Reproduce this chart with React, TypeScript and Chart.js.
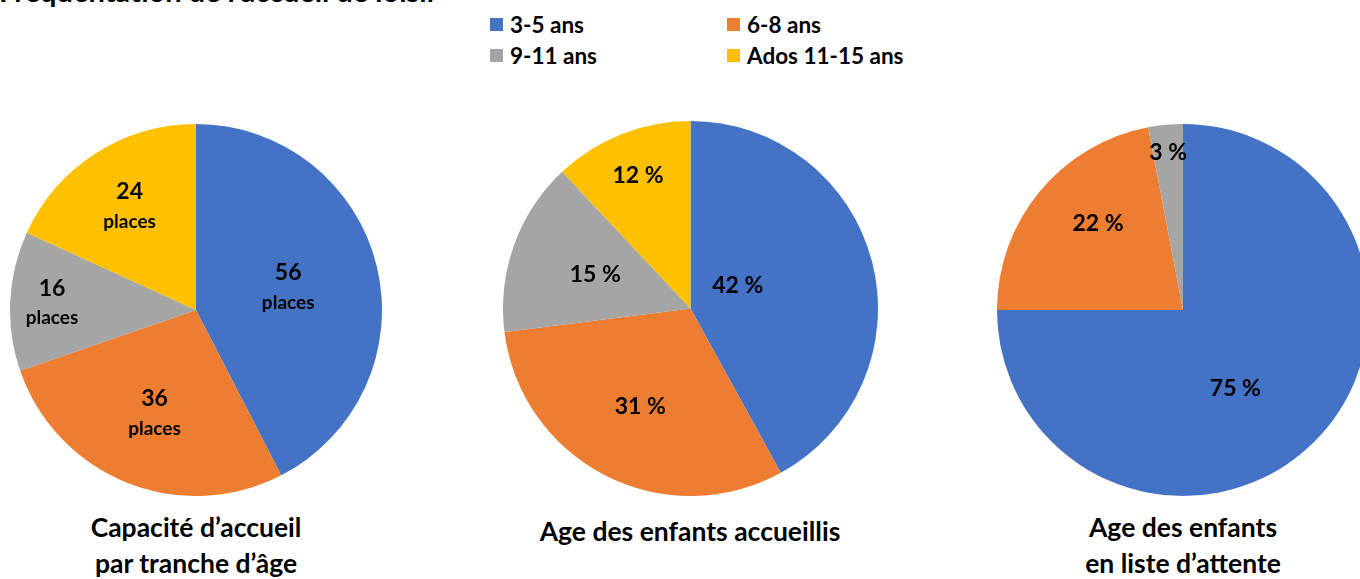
import React, { useEffect, useRef } from "react";
import { Chart, registerables } from "chart.js";

Chart.register(...registerables);

const categories = ["3-5 ans", "6-8 ans", "9-11 ans", "Ados 11-15 ans"];
const colors = ["#4472C4", "#ED7D31", "#A5A5A5", "#FFC000"];
const capacityPlaces = [56, 36, 16, 24];
const agesAccueillis = [42, 31, 15, 12];
const agesAttente = [75, 22, 3, 0];

const titles1 = ["Capacité d’accueil", "par tranche d’âge"];
const titles2 = ["Age des enfants accueillis"];
const titles3 = ["Age des enfants", "en liste d’attente"];

const FONT = "Lato, 'Open Sans', sans-serif";

type PieCfg = {
  data: number[];
  fracs: number[];
  turns: number[];
  suffix: string;
  box: { left: number; top: number; size: number };
  twoLine: boolean;
};

const pies: PieCfg[] = [
  { data: capacityPlaces, fracs: [0.51, 0.6, 0.775, 0.66], turns: [0, 0, 0, 0], suffix: "places", box: { left: 10, top: 124, size: 372 }, twoLine: true },
  { data: agesAccueillis, fracs: [0.28, 0.59, 0.54, 0.76], turns: [-0.2, 0, 0, 0], suffix: " %", box: { left: 503, top: 121, size: 375 }, twoLine: false },
  { data: agesAttente, fracs: [0.51, 0.65, 0.85, 0.7], turns: [0.2, 0.1, 0, 0], suffix: " %", box: { left: 997, top: 124, size: 372 }, twoLine: false },
];

function PieChart({ cfg }: { cfg: PieCfg }) {
  const ref = useRef<HTMLCanvasElement>(null);
  useEffect(() => {
    if (!ref.current) return;
    const labelPlugin = {
      id: "sliceLabels",
      afterDatasetsDraw(chart: any) {
        const ctx = chart.ctx;
        const meta = chart.getDatasetMeta(0);
        ctx.save();
        ctx.fillStyle = "#000";
        ctx.textAlign = "center";
        ctx.textBaseline = "middle";
        meta.data.forEach((arc: any, i: number) => {
          const v = cfg.data[i];
          if (!v) return;
          const p = arc.getProps(["x", "y", "startAngle", "endAngle", "outerRadius"], true);
          const mid = (p.startAngle + p.endAngle) / 2 + cfg.turns[i];
          const r = p.outerRadius * cfg.fracs[i];
          const x = p.x + Math.cos(mid) * r;
          const y = p.y + Math.sin(mid) * r;
          if (cfg.twoLine) {
            ctx.font = `bold 23px ${FONT}`;
            ctx.fillText(String(v), x, y - 15);
            ctx.font = `bold 19px ${FONT}`;
            ctx.fillText(cfg.suffix, x, y + 15);
          } else {
            ctx.font = `bold 23px ${FONT}`;
            ctx.fillText(v + cfg.suffix, x, y);
          }
        });
        ctx.restore();
      },
    };
    const chart = new Chart(ref.current, {
      type: "pie",
      data: {
        labels: categories,
        datasets: [{ data: cfg.data, backgroundColor: colors, borderWidth: 0 }],
      },
      options: {
        responsive: false,
        animation: false,
        layout: { padding: 0 },
        plugins: { legend: { display: false }, tooltip: { enabled: false } },
      },
      plugins: [labelPlugin],
    });
    return () => chart.destroy();
  }, [cfg]);
  return (
    <canvas
      ref={ref}
      width={cfg.box.size}
      height={cfg.box.size}
      style={{ position: "absolute", left: cfg.box.left, top: cfg.box.top, width: cfg.box.size, height: cfg.box.size }}
    />
  );
}

function Title({ lines, cx, top }: { lines: string[]; cx: number; top: number }) {
  return (
    <div
      style={{
        position: "absolute",
        left: cx - 220,
        width: 440,
        top,
        textAlign: "center",
        fontFamily: FONT,
        fontWeight: 700,
        fontSize: 26.5,
        lineHeight: "36px",
        color: "#000",
        whiteSpace: "nowrap",
      }}
    >
      {lines.map((l, i) => (
        <div key={i}>{l}</div>
      ))}
    </div>
  );
}

export default function App() {
  const legendPos = [
    { x: 490, y: 24 },
    { x: 727, y: 24 },
    { x: 490, y: 55 },
    { x: 727, y: 55 },
  ];
  return (
    <div
      style={{
        position: "absolute",
        left: 0,
        top: 0,
        width: 1360,
        height: 579,
        overflow: "hidden",
        background: "#fff",
      }}
    >
      <div
        style={{
          position: "absolute",
          left: -1,
          top: -26,
          fontFamily: FONT,
          fontWeight: 700,
          fontSize: 29,
          lineHeight: "34px",
          whiteSpace: "nowrap",
        }}
      >
        Fréquentation de l’accueil de loisir
      </div>
      {categories.map((c, i) => (
        <div
          key={c}
          style={{
            position: "absolute",
            left: legendPos[i].x,
            top: legendPos[i].y - 14,
            height: 28,
            display: "flex",
            alignItems: "center",
            fontFamily: FONT,
            fontWeight: 700,
            fontSize: 22.5,
            whiteSpace: "nowrap",
          }}
        >
          <span style={{ display: "inline-block", width: 13, height: 13, background: colors[i], marginRight: 7 }} />
          {c}
        </div>
      ))}
      {pies.map((p, i) => (
        <PieChart key={i} cfg={p} />
      ))}
      <Title lines={titles1} cx={196} top={509} />
      <Title lines={titles2} cx={690} top={513} />
      <Title lines={titles3} cx={1183} top={509} />
    </div>
  );
}
